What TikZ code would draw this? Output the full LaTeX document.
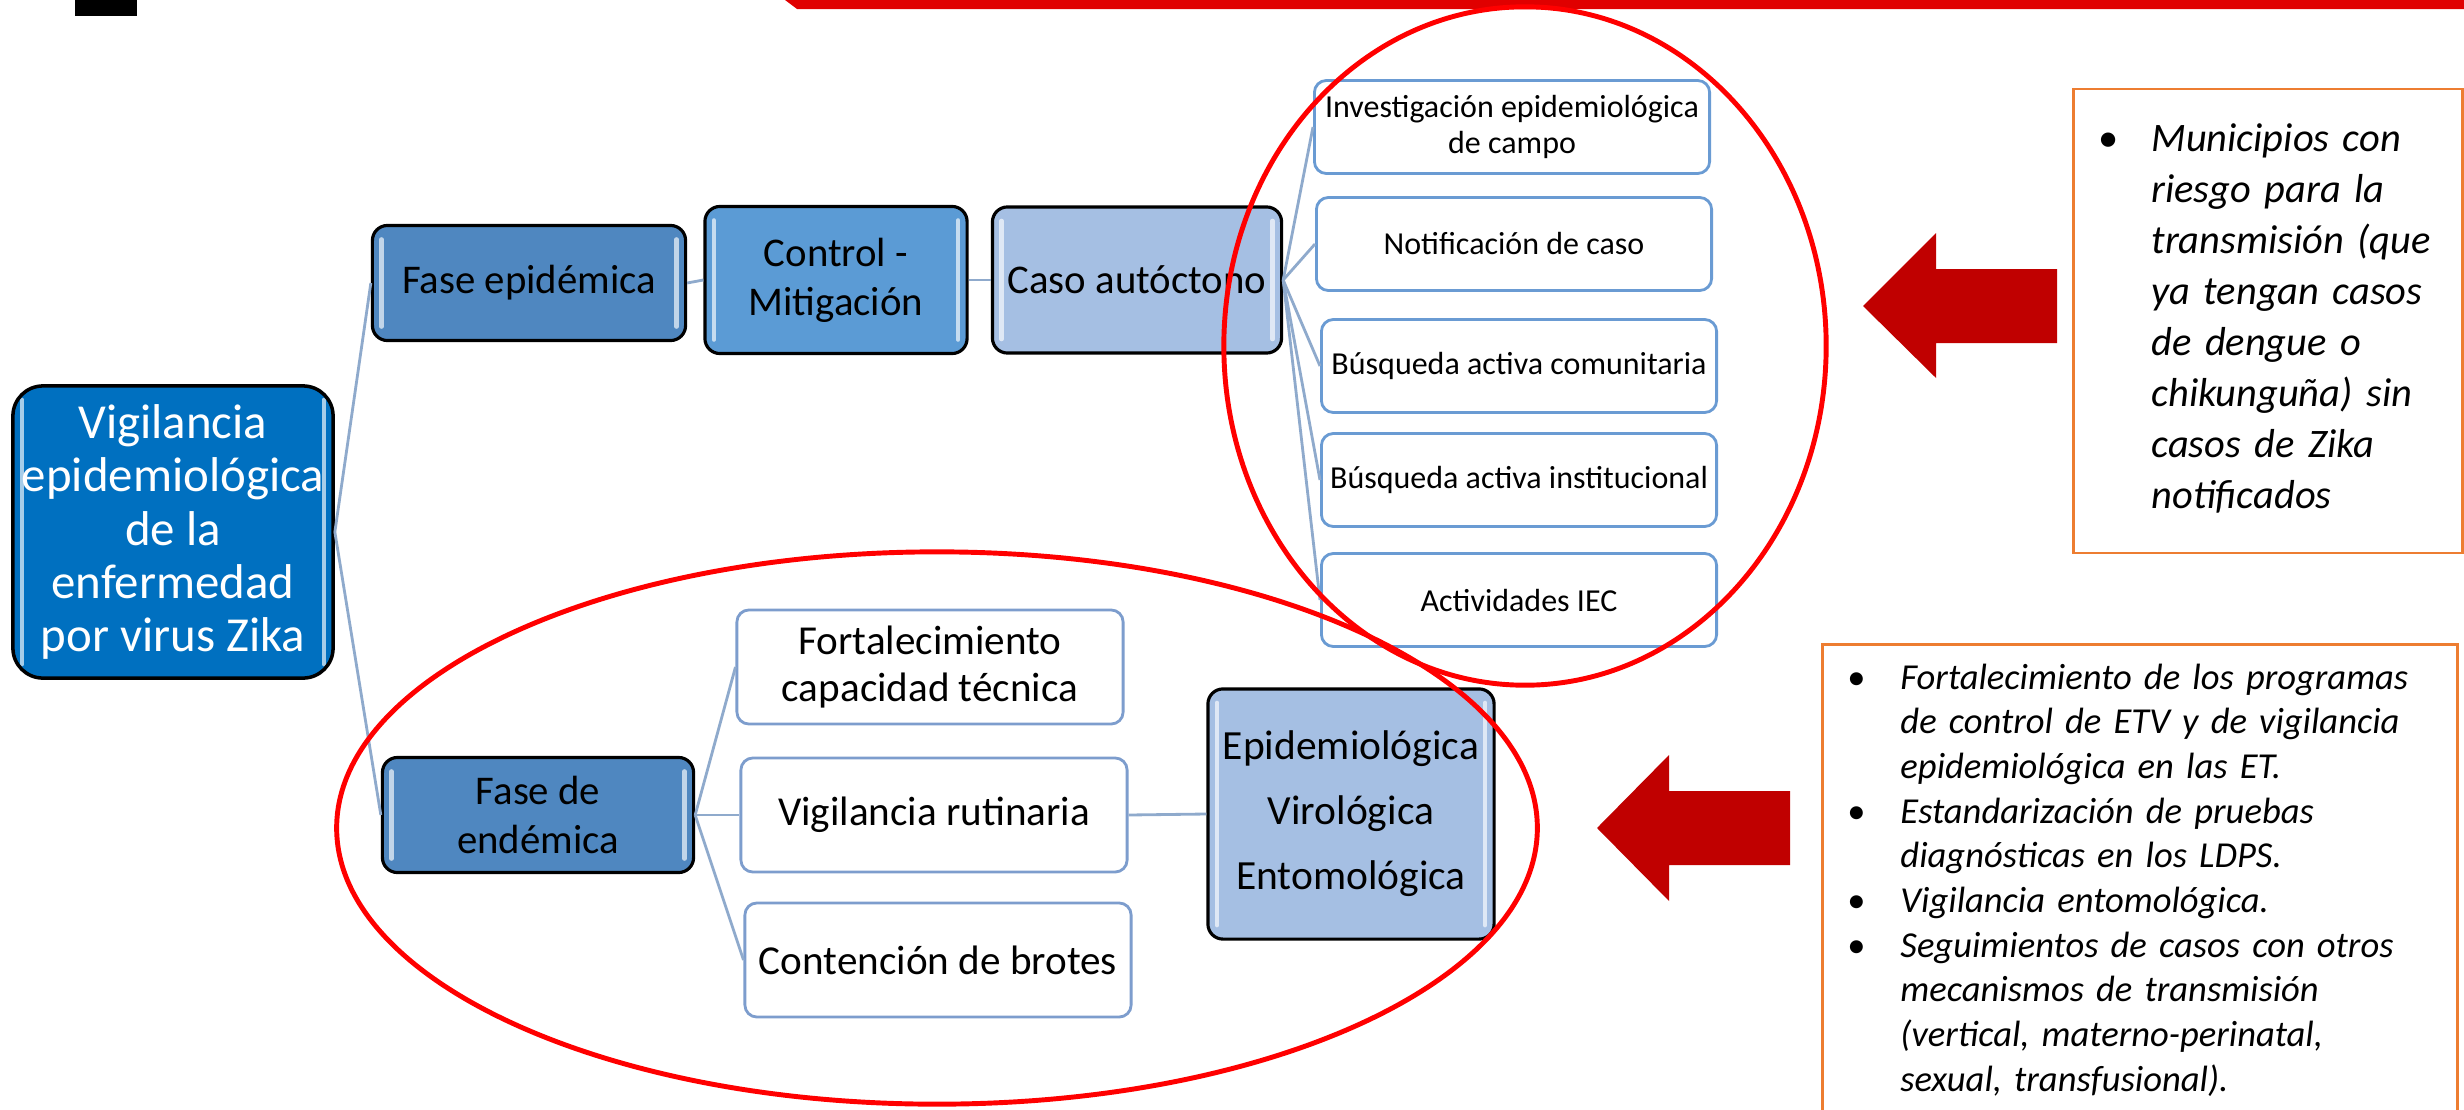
\documentclass[tikz,border=0pt]{standalone}
\usepackage{fontspec}
\setmainfont{Carlito}
\usetikzlibrary{shapes,calc}

\definecolor{deepblue}{RGB}{0,112,192}
\definecolor{midblue}{RGB}{79,135,192}
\definecolor{skyblue}{RGB}{91,155,213}
\definecolor{paleblue}{RGB}{165,191,227}
\definecolor{rimblue}{RGB}{106,155,211}
\definecolor{subrim}{RGB}{125,157,205}
\definecolor{linkblue}{RGB}{143,170,204}
\definecolor{ringred}{RGB}{255,0,0}
\definecolor{arrowred}{RGB}{192,0,0}
\definecolor{barred}{RGB}{224,0,0}
\definecolor{noteorange}{RGB}{237,125,49}

\newlength\bulletind
\setlength\bulletind{0.53cm}
\newcommand{\bitem}[1]{\par\noindent\hangindent=\bulletind\hangafter=1\hbox to\bulletind{\upshape\textbullet\hfil}#1\par}
\newcommand{\tailgap}[1]{\par\vskip#1\hrule height0pt}

\begin{document}
\begin{tikzpicture}[x=0.01cm,y=-0.01cm,
    gloss/.style={path picture={
        \draw[white,opacity=.65,line width=1.3pt,line cap=round]
          ([xshift=.09cm,yshift=.14cm]path picture bounding box.south west) --
          ([xshift=.09cm,yshift=-.14cm]path picture bounding box.north west)
          ([xshift=-.09cm,yshift=.14cm]path picture bounding box.south east) --
          ([xshift=-.09cm,yshift=-.14cm]path picture bounding box.north east);}},
    darknode/.style={draw=black,line width=.9pt,rounded corners=.15cm,gloss,align=center,inner sep=0pt},
    rootnode/.style={darknode,fill=deepblue,text=white,rounded corners=.3cm,line width=1pt,font=\fontsize{13.9}{15.1}\selectfont},
    phasenode/.style={darknode,fill=midblue,font=\fontsize{11.6}{14}\selectfont},
    leafnode/.style={draw=rimblue,line width=.8pt,fill=white,rounded corners=.12cm,align=center,inner sep=0pt,
      font=\fontsize{9.1}{10.2}\selectfont,minimum width=3.95cm,minimum height=.93cm},
    subnode/.style={draw=subrim,line width=.8pt,fill=white,rounded corners=.12cm,align=center,inner sep=0pt,
      font=\fontsize{11.7}{13.4}\selectfont,minimum width=3.86cm,minimum height=1.14cm},
    link/.style={draw=linkblue,line width=.8pt},
    ring/.style={draw=ringred,line width=1.4pt},
    notenode/.style={draw=noteorange,line width=.8pt,fill=white,inner xsep=.25cm}
  ]
  \useasboundingbox (0,0) rectangle (2464,1109);

  % banner pieces
  \fill[black] (75,0) rectangle (137,16);
  \fill[barred] (785,0) -- (2464,0) -- (2464,9) -- (797,9) -- cycle;

  % tree
  \node[rootnode,minimum width=3.2cm,minimum height=2.92cm] (root) at (173,532) {Vigilancia\\epidemiológica\\de la\\enfermedad\\por virus Zika};
  \node[phasenode,minimum width=3.13cm,minimum height=1.15cm] (epi) at (529,283) {Fase epidémica};
  \node[phasenode,fill=skyblue,minimum width=2.62cm,minimum height=1.47cm] (ctrl) at (836,280) {Control -\\Mitigación};
  \node[phasenode,fill=paleblue,minimum width=2.89cm,minimum height=1.46cm] (caso) at (1137,280) {Caso autóctono};

  \node[leafnode] (inv) at (1512,127) {Investigación epidemiológica\\de campo};
  \node[leafnode] (notif) at (1514,244) {Notificación de caso};
  \node[leafnode] (bcom) at (1519,366) {Búsqueda activa comunitaria};
  \node[leafnode] (binst) at (1519,480) {Búsqueda activa institucional};
  \node[leafnode] (iec) at (1519,600) {Actividades IEC};

  \node[phasenode,minimum width=3.11cm,minimum height=1.15cm] (end) at (538,815) {Fase de\\endémica};
  \node[subnode] (fort) at (930,667) {Fortalecimiento\\capacidad técnica};
  \node[subnode] (rut) at (934,815) {Vigilancia rutinaria};
  \node[subnode] (brot) at (938,960) {Contención de brotes};
  \node[phasenode,fill=paleblue,font=\fontsize{11.8}{18.5}\selectfont,minimum width=2.86cm,minimum height=2.5cm] (tipos) at (1351,814) {Epidemiológica\\Virológica\\Entomológica};

  \draw[link] (root.east) -- (epi.west);
  \draw[link] (root.east) -- (end.west);
  \draw[link] (epi.east) -- (ctrl.west);
  \draw[link] (ctrl.east) -- (caso.west);
  \foreach \n in {inv,notif,bcom,binst,iec}
    \draw[link] (caso.east) -- (\n.west);
  \foreach \n in {fort,rut,brot}
    \draw[link] (end.east) -- (\n.west);
  \draw[link] (rut.east) -- (tipos.west);

  % notes
  \node[notenode,font=\itshape\fontsize{11.5}{14.5}\selectfont,minimum width=3.89cm,minimum height=4.34cm,text width=3.39cm] (riesgo) at (2268,321)
    {\bitem{Municipios con\newline riesgo para la\newline transmisión (que\newline ya tengan casos\newline
       de dengue o\newline chikunguña) sin\newline casos de Zika\newline notificados}\tailgap{.28cm}};
  \node[notenode,font=\itshape\fontsize{10.4}{12.7}\selectfont,anchor=north west,text width=5.85cm,inner ysep=0pt] (acciones) at (1821,643)
    {\bitem{Fortalecimiento de los programas\newline de control de ETV y de vigilancia\newline epidemiológica en las ET.}
     \bitem{Estandarización de pruebas\newline diagnósticas en los LDPS.}
     \bitem{Vigilancia entomológica.}
     \bitem{Seguimientos de casos con otros\newline mecanismos de transmisión\newline (vertical, materno-perinatal,\newline sexual, transfusional).}\tailgap{.6cm}};

  % arrows
  \fill[arrowred] (2057,269) -- (1936,269) -- (1936,233) -- (1863,306) -- (1936,378) -- (1936,343) -- (2057,343) -- cycle;
  \fill[arrowred] (1790,791) -- (1669,791) -- (1669,755) -- (1597,828) -- (1669,901) -- (1669,865) -- (1790,865) -- cycle;

  % highlight rings
  \draw[ring] (1525,346) ellipse [x radius=3.01cm,y radius=3.39cm];
  \draw[ring] (937,828) ellipse [x radius=6cm,y radius=2.76cm];
\end{tikzpicture}
\end{document}
